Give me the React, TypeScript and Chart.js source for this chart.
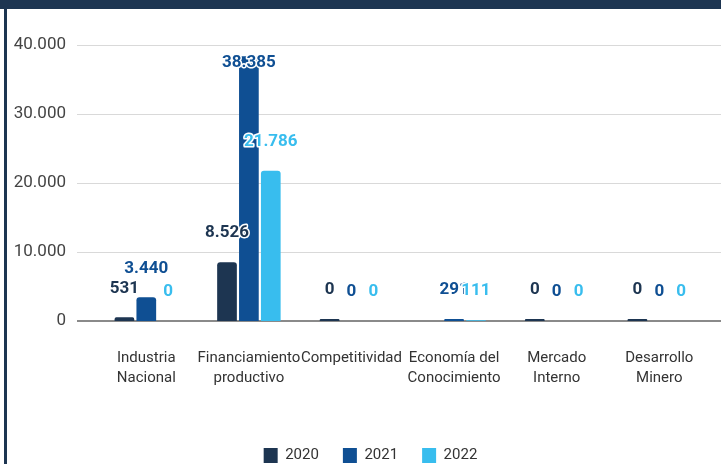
import React, { useEffect, useRef } from 'react';
import { Chart, registerables } from 'chart.js';

Chart.register(...registerables);

const categories: (string | string[])[] = [
  ['Industria', 'Nacional'],
  ['Financiamiento', 'productivo'],
  'Competitividad',
  ['Economía del', 'Conocimiento'],
  ['Mercado', 'Interno'],
  ['Desarrollo', 'Minero'],
];
const seriesNames = ['2020', '2021', '2022'];
const values2020: (number | null)[] = [531, 8526, 0, null, 0, 0];
const values2021: (number | null)[] = [3440, 38385, 0, 291, 0, 0];
const values2022: (number | null)[] = [0, 21786, 0, 111, 0, 0];
const yMax = 40000;
const yStep = 10000;

const colors = ['#1d3551', '#0f4f93', '#38bdee'];
const NAVY = '#1d3551';

function fmt(v: number): string {
  return String(Math.round(v)).replace(/\B(?=(\d{3})+(?!\d))/g, '.');
}

const gridPlugin = {
  id: 'extGrid',
  beforeDatasetsDraw(chart: any) {
    const { ctx, chartArea } = chart;
    const ys = chart.scales.y;
    ctx.save();
    ys.ticks.forEach((t: any) => {
      const y = Math.round(ys.getPixelForValue(t.value));
      ctx.beginPath();
      if (t.value === 0) {
        ctx.strokeStyle = '#8a8a8a';
        ctx.lineWidth = 2;
        ctx.moveTo(chartArea.left - 18, y);
        ctx.lineTo(chart.width, y);
      } else {
        ctx.strokeStyle = '#d9d9d9';
        ctx.lineWidth = 1;
        ctx.moveTo(chartArea.left - 18, y + 0.5);
        ctx.lineTo(chart.width, y + 0.5);
      }
      ctx.stroke();
    });
    ctx.restore();
  },
};

const legendPlace = {
  id: 'legendPlace',
  afterLayout(chart: any) {
    const lg = chart.legend;
    if (!lg) return;
    const h = lg.bottom - lg.top;
    const top = 424;
    lg.top = top;
    lg.bottom = top + h;
    lg.left += 9;
    lg.right += 9;
  },
};

const labelPlugin = {
  id: 'valueLabels',
  afterDatasetsDraw(chart: any) {
    const { ctx, chartArea } = chart;
    ctx.save();
    ctx.font = 'bold 17px Roboto';
    ctx.textAlign = 'center';
    ctx.textBaseline = 'middle';
    ctx.lineJoin = 'round';
    ctx.lineWidth = 3;
    ctx.strokeStyle = '#ffffff';
    chart.data.datasets.forEach((ds: any, i: number) => {
      const meta = chart.getDatasetMeta(i);
      meta.data.forEach((el: any, j: number) => {
        const v = ds.data[j];
        if (v === null || v === undefined) return;
        const top = Math.min(el.y, el.base);
        let y = top - 29;
        y = Math.max(y, chartArea.top + 18);
        const txt = fmt(v);
        ctx.strokeText(txt, el.x, y);
        ctx.fillStyle = colors[i];
        ctx.fillText(txt, el.x, y);
      });
    });
    ctx.restore();
  },
};

export default function App() {
  const ref = useRef<HTMLCanvasElement | null>(null);

  useEffect(() => {
    document.body.style.margin = '0';
    const canvas = ref.current;
    if (!canvas) return;
    const series = [values2020, values2021, values2022];
    const chart = new Chart(canvas, {
      type: 'bar',
      data: {
        labels: categories,
        datasets: series.map((d, i) => ({
          label: seriesNames[i],
          data: d,
          backgroundColor: colors[i],
          borderRadius: { topLeft: 3, topRight: 3, bottomLeft: 0, bottomRight: 0 },
          borderSkipped: false,
          categoryPercentage: 0.64,
          barPercentage: 0.9,
          minBarLength: i === 0 ? 2 : 0,
        })),
      },
      options: {
        animation: false,
        responsive: false,
        maintainAspectRatio: false,
        layout: { padding: { top: 45, left: 10, right: 8, bottom: 0 } },
        plugins: {
          legend: {
            position: 'bottom',
            labels: {
              boxWidth: 14,
              boxHeight: 15,
              padding: 24,
              color: '#333333',
              font: { family: 'Roboto', size: 15 },
            },
          },
          tooltip: { enabled: false },
        },
        scales: {
          x: {
            grid: { display: false, drawTicks: false },
            border: { display: false },
            ticks: {
              color: '#333333',
              font: { family: 'Roboto', size: 15, lineHeight: 1.333 },
              padding: 27,
              maxRotation: 0,
              autoSkip: false,
            },
          },
          y: {
            min: 0,
            max: yMax,
            grid: { display: false, drawTicks: false },
            border: { display: false },
            ticks: {
              stepSize: yStep,
              color: '#444444',
              padding: 29,
              font: { family: 'Roboto', size: 17 },
              callback: (v: any) => fmt(Number(v)),
            },
            afterFit: (s: any) => {
              s.width = 85;
            },
          },
        },
      } as any,
      plugins: [gridPlugin, labelPlugin, legendPlace],
    });
    return () => chart.destroy();
  }, []);

  return (
    <div style={{ position: 'relative', width: 721, height: 464, background: '#ffffff', overflow: 'hidden' }}>
      <canvas ref={ref} width={721} height={464} style={{ display: 'block', width: 721, height: 464 }} />
      <div style={{ position: 'absolute', left: 0, top: 0, width: 721, height: 9, background: NAVY }} />
      <div style={{ position: 'absolute', left: 4, top: 0, width: 3, height: 464, background: NAVY }} />
    </div>
  );
}
